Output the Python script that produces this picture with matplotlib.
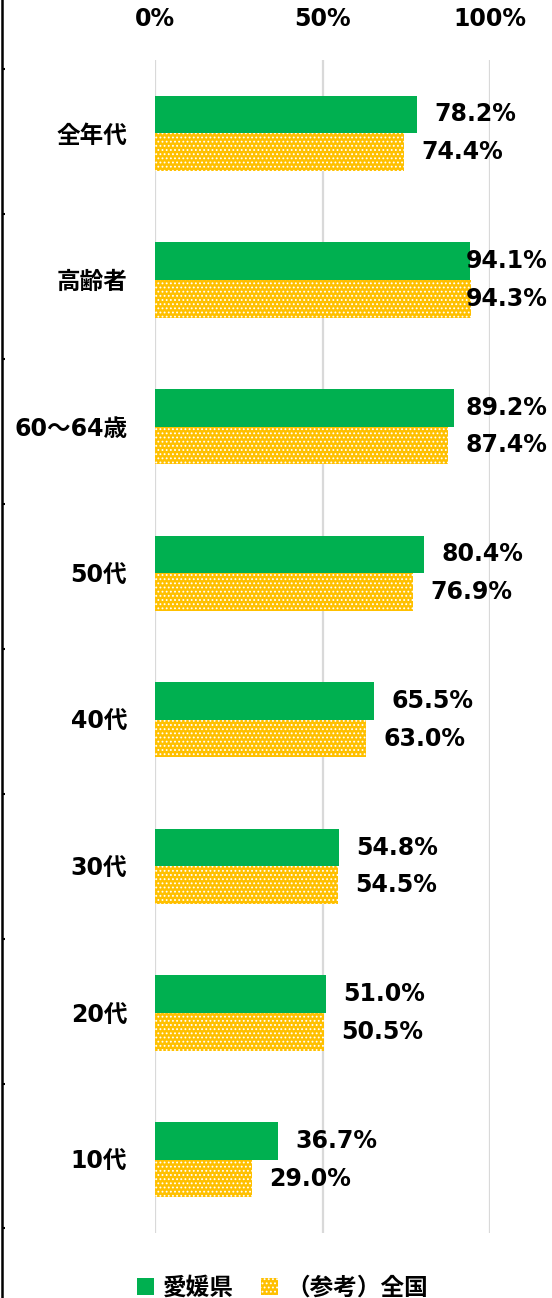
import matplotlib
matplotlib.use("Agg")
import matplotlib.pyplot as plt
from matplotlib.patches import Patch

plt.rcParams['font.family'] = ['DejaVu Sans', 'Noto Sans CJK JP']
plt.rcParams['font.weight'] = 'bold'
plt.rcParams['hatch.linewidth'] = 0.8

categories = ['全年代', '高齢者', '60～64歳', '50代', '40代', '30代', '20代', '10代']
ehime = [78.2, 94.1, 89.2, 80.4, 65.5, 54.8, 51.0, 36.7]
national = [74.4, 94.3, 87.4, 76.9, 63.0, 54.5, 50.5, 29.0]
xticks = [0, 50, 100]
xtick_labels = ['0%', '50%', '100%']
series_names = ['愛媛県', '（参考）全国']

GREEN = '#00B050'
YELLOW = '#FFC000'
FS = 17

W, H = 552, 1298
fig = plt.figure(figsize=(W / 100, H / 100), dpi=100)
ax = fig.add_axes([155 / W, 65 / H, 335 / W, 1173 / H])

n = len(categories)
pos = list(range(n))
bh = 0.257
ax.barh([p - bh / 2 for p in pos], ehime, height=bh, color=GREEN, linewidth=0, zorder=2)
ax.barh([p + bh / 2 for p in pos], national, height=bh, color=YELLOW,
        edgecolor='white', hatch='....', linewidth=0, zorder=2)

ax.set_xlim(0, 100)
ax.set_ylim(n - 0.5, -0.5)
ax.xaxis.tick_top()
ax.set_xticks(xticks)
ax.set_xticklabels(xtick_labels, fontsize=FS, fontweight='bold')
ax.set_yticks(pos)
ax.set_yticklabels(categories, fontsize=FS, fontweight='bold')
ax.tick_params(axis='x', length=0, pad=21)
ax.tick_params(axis='y', length=0, pad=20)
ax.grid(axis='x', color='#D9D9D9', linewidth=1.6, zorder=0)
ax.set_axisbelow(True)
for s in ax.spines.values():
    s.set_visible(False)

def label_x(v):
    return min(v + 5.2, 92.7)

for p, v in zip(pos, ehime):
    ax.text(label_x(v), p - bh / 2, f'{v:.1f}%', ha='left', va='center',
            fontsize=FS, fontweight='bold', color='black', clip_on=False, zorder=3)
for p, v in zip(pos, national):
    ax.text(label_x(v), p + bh / 2, f'{v:.1f}%', ha='left', va='center',
            fontsize=FS, fontweight='bold', color='black', clip_on=False, zorder=3)

# decorative left axis line with ticks
ax2 = fig.add_axes([2 / W, 0, 10 / W, 1])
ax2.set_ylim(8.48, -0.476)
ax2.set_xlim(0, 1)
ax2.set_yticks(range(9))
ax2.set_yticklabels([])
ax2.set_xticks([])
ax2.tick_params(axis='y', direction='in', length=2.5, width=1.5, color='black')
for k, s in ax2.spines.items():
    s.set_visible(k == 'left')
ax2.spines['left'].set_linewidth(1.8)
ax2.spines['left'].set_color('black')
ax2.patch.set_alpha(0)

handles = [Patch(facecolor=GREEN, linewidth=0),
           Patch(facecolor=YELLOW, edgecolor='white', hatch='....', linewidth=0)]
fig.legend(handles, series_names, loc='center', bbox_to_anchor=(282.5 / W, 1 - 1288 / H),
           ncol=2, frameon=False, prop={'weight': 'bold', 'size': FS},
           handlelength=0.72, handleheight=0.72, handletextpad=0.35,
           columnspacing=1.15, borderpad=0, borderaxespad=0)

fig.savefig('out.png', dpi=100)
